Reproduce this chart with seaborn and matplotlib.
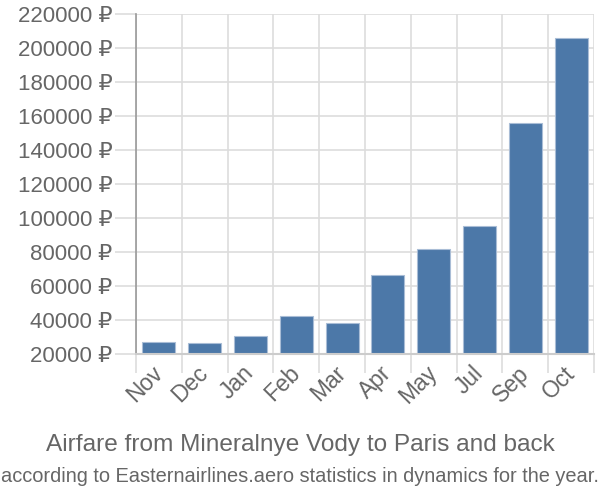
import matplotlib
matplotlib.use("Agg")
import matplotlib.pyplot as plt
import seaborn as sns
import pandas as pd
import numpy as np

months = ["Nov", "Dec", "Jan", "Feb", "Mar", "Apr", "May", "Jul", "Sep", "Oct"]
prices = [27100, 26700, 30800, 42100, 38400, 66200, 81700, 95300, 155800, 205600]
yticks = list(range(20000, 220001, 20000))
title = "Airfare from Mineralnye Vody to Paris and back"
subtitle = "according to Easternairlines.aero statistics in dynamics for the year."

sns.set_theme(style="white")
plt.rcParams["font.family"] = ["Liberation Sans", "DejaVu Sans"]

df = pd.DataFrame({"month": months, "price": prices})

fig = plt.figure(figsize=(6, 5), dpi=100)
ax = fig.add_axes([136/600, 1-354/500, (594-136)/600, (354-14)/500])

sns.barplot(data=df, x="month", y="price", color="#4c78a8", saturation=1,
            width=0.72, edgecolor="#a9bdd6", linewidth=0.8, ax=ax, zorder=3)

ax.set_ylim(20000, 220000)
ax.set_xlim(-0.5, len(months) - 0.5)
ax.set_yticks(yticks)
ax.set_yticklabels([f"{v} ₽" for v in yticks])
ax.set_xticks(np.arange(len(months)))
ax.set_xticks(np.arange(len(months) + 1) - 0.5, minor=True)
ax.set_xlabel("")
ax.set_ylabel("")

grid_c = "#dddddd"
ax.grid(True, axis="y", which="major", color=grid_c, linewidth=1.2, zorder=0)
ax.grid(True, axis="x", which="minor", color=grid_c, linewidth=1.2, zorder=0)
ax.set_axisbelow(True)

ax.tick_params(axis="y", which="major", length=15, color=grid_c, width=1.2,
               pad=2, labelsize=16, labelcolor="#666666", left=True)
ax.tick_params(axis="x", which="major", length=0, pad=4, labelsize=16.5,
               labelcolor="#666666", bottom=True)
ax.tick_params(axis="x", which="minor", length=14, color=grid_c, width=1.2,
               bottom=True)
for lab in ax.get_xticklabels():
    lab.set_rotation(45)
    lab.set_ha("right")
    lab.set_va("center")
    lab.set_rotation_mode("anchor")
    lab.set_y(-0.03)

for s in ["top", "right"]:
    ax.spines[s].set_visible(False)
ax.spines["left"].set_color("#999999")
ax.spines["left"].set_linewidth(1.2)
ax.spines["bottom"].set_color("#cccccc")
ax.spines["bottom"].set_linewidth(1.5)
ax.spines["bottom"].set_zorder(4)
mt = ax.xaxis.get_minor_ticks()
mt[0].tick1line.set_color("#999999")

fig.text(0.5, 1-445/500, title, ha="center", va="center", fontsize=17.6, color="#666666")
fig.text(0.5, 1-476/500, subtitle, ha="center", va="center", fontsize=14.4, color="#666666")

fig.savefig("out.png", dpi=100)
